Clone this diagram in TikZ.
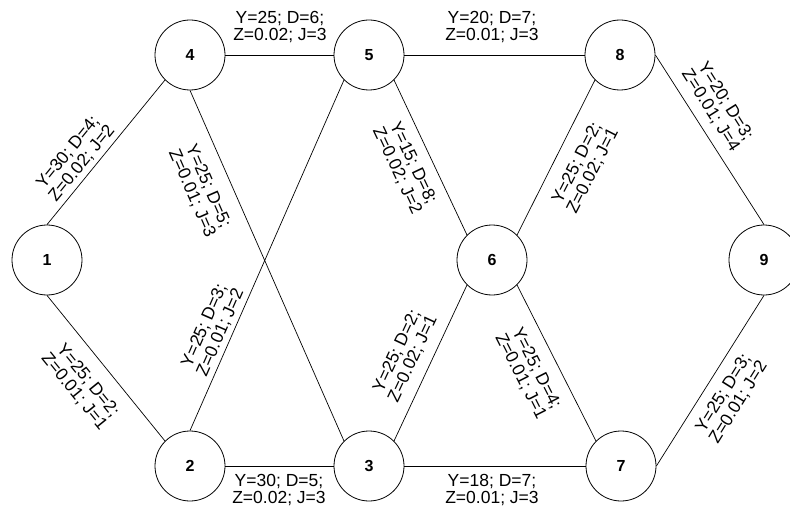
\documentclass[tikz,border=0pt]{standalone}
\usepackage{fontspec}
\setmainfont{Liberation Sans}
\begin{document}
\begin{tikzpicture}[x=1pt,y=-1pt,
  vertex/.style={circle,draw=black,line width=0.8pt,minimum size=70pt,inner sep=0pt,
    font=\fontsize{16}{16}\selectfont\bfseries},
  lbl/.style={inner sep=0pt,align=center,font=\fontsize{17.5}{17.6}\selectfont},
  link/.style={draw=black,line width=0.7pt}]
\fill[white] (0,0) rectangle (790,508);
\useasboundingbox (0,0) rectangle (790,508);
% vertices
\node[vertex] (n1) at (47,260) {1};
\node[vertex] (n4) at (190,55) {4};
\node[vertex] (n5) at (369,55) {5};
\node[vertex] (n8) at (620,55) {8};
\node[vertex] (n6) at (492,260) {6};
\node[vertex] (n9) at (764,260) {9};
\node[vertex] (n2) at (190,466) {2};
\node[vertex] (n3) at (369,466) {3};
\node[vertex] (n7) at (621,466) {7};
% links
\draw[link] (n1.north) -- (n4.south west);
\draw[link] (n4.east) -- (n5.west);
\draw[link] (n4.south) -- (n3.north west);
\draw[link] (n5.south west) -- (n2.north);
\draw[link] (n5.south east) -- (n6.north west);
\draw[link] (n5.east) -- (n8.west);
\draw[link] (n8.south west) -- (n6.north east);
\draw[link] (n8.east) -- (n9.north);
\draw[link] (n1.south) -- (n2.north west);
\draw[link] (n2.east) -- (n3.west);
\draw[link] (n3.north east) -- (n6.south west);
\draw[link] (n6.south east) -- (n7.north west);
\draw[link] (n3.east) -- (n7.west);
\draw[link] (n7.east) -- (n9.south);
% labels
\node[lbl] (l45) at (280,27) {Y=25; D=6;\\Z=0.02; J=3};
\node[lbl] (l58) at (492,27) {Y=20; D=7;\\Z=0.01; J=3};
\node[lbl] (l23) at (279,490) {Y=30; D=5;\\Z=0.02; J=3};
\node[lbl] (l37) at (492,490) {Y=18; D=7;\\Z=0.01; J=3};
\node[lbl,rotate=50.9] (l14) at (75,158) {Y=30; D=4;\\Z=0.02; J=2};
\node[lbl,rotate=-66.3] (l43) at (200,190) {Y=25; D=5;\\Z=0.01; J=3};
\node[lbl,rotate=66.3] (l52) at (212.5,329) {Y=25; D=3;\\Z=0.01; J=2};
\node[lbl,rotate=-64.7] (l56) at (405,167) {Y=15; D=8;\\Z=0.02; J=2};
\node[lbl,rotate=62.9] (l86) at (585,167) {Y=25; D=2;\\Z=0.02; J=1};
\node[lbl,rotate=-57.8] (l89) at (718,106) {Y=20; D=3;\\Z=0.01; J=4};
\node[lbl,rotate=-51] (l12) at (81,386) {Y=25; D=2;\\Z=0.01; J=1};
\node[lbl,rotate=64.8] (l36) at (405,355) {Y=25; D=2;\\Z=0.02; J=1};
\node[lbl,rotate=-63] (l67) at (528.5,372.5) {Y=25; D=4;\\Z=0.01; J=1};
\node[lbl,rotate=58] (l79) at (731,398) {Y=25; D=3;\\Z=0.01; J=2};
\end{tikzpicture}
\end{document}
